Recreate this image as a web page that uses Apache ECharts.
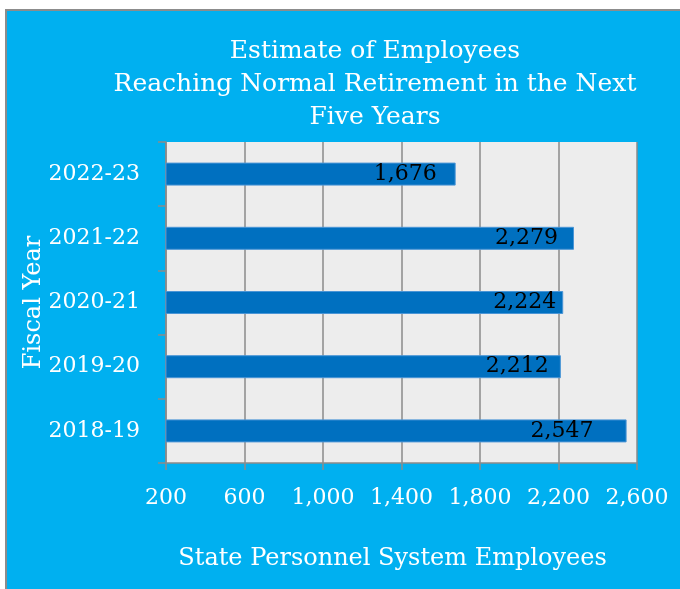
<!DOCTYPE html>
<html>
<head>
<meta charset="utf-8">
<script src="https://cdn.jsdelivr.net/npm/echarts@6/dist/echarts.min.js"></script>
<style>
  html, body { margin: 0; padding: 0; background: #fff; }
  #chart { width: 680px; height: 589px; }
</style>
</head>
<body>
<div id="chart"></div>
<script>
// fiscal years, bottom to top as the category axis draws them
const years = ['2018-19', '2019-20', '2020-21', '2021-22', '2022-23'];
const employees = [2547, 2212, 2224, 2279, 1676];
const xTicks = [200, 600, 1000, 1400, 1800, 2200, 2600];

// how far each value label sits in from the bar end (px), as in the original
const labelPad = [33, 12, 7, 16, 19];

const serif = 'DejaVu Serif';
const fmt = v => Number(v).toLocaleString('en-US');

const myChart = echarts.init(document.getElementById('chart'));
const option = {
  backgroundColor: '#fff',
  animation: false,
  graphic: [{
    type: 'rect',
    z: -10,
    silent: true,
    shape: { x: 6, y: 10, width: 700, height: 600 },
    style: { fill: '#00B0F0', stroke: '#8C8C8C', lineWidth: 2 }
  }],
  title: {
    text: 'Estimate of Employees\nReaching Normal Retirement in the Next\nFive Years',
    left: 370,
    top: 30,
    textAlign: 'center',
    textStyle: {
      fontFamily: serif,
      fontSize: 25,
      lineHeight: 33,
      fontWeight: 'normal',
      color: '#fff'
    }
  },
  grid: {
    left: 166,
    top: 142,
    right: 43,
    bottom: 126,
    show: true,
    backgroundColor: '#EDEDED',
    borderWidth: 0
  },
  xAxis: {
    type: 'value',
    min: 200,
    max: 2600,
    name: 'State Personnel System Employees',
    nameLocation: 'middle',
    nameGap: 84,
    nameMoveOverlap: false,
    nameTextStyle: {
      fontFamily: serif,
      fontSize: 24,
      color: '#fff',
      padding: [0, 18, 0, 0]
    },
    axisLine: { show: true, lineStyle: { color: '#8A8A8A', width: 1.5 } },
    axisTick: { show: true, length: 7, customValues: xTicks, lineStyle: { color: '#8A8A8A', width: 1.5 } },
    axisLabel: {
      customValues: xTicks,
      margin: 24,
      fontFamily: serif,
      fontSize: 22,
      color: '#fff',
      formatter: fmt
    },
    splitLine: { show: true, lineStyle: { color: '#8A8A8A', width: 1.5 } }
  },
  yAxis: {
    type: 'category',
    data: years,
    name: 'Fiscal Year',
    nameLocation: 'middle',
    nameRotate: 90,
    nameGap: 120,
    nameMoveOverlap: false,
    nameTextStyle: {
      fontFamily: serif,
      fontSize: 24,
      color: '#fff'
    },
    axisLine: { show: true, lineStyle: { color: '#8A8A8A', width: 1.5 } },
    axisTick: { show: true, length: 8, lineStyle: { color: '#8A8A8A', width: 1.5 } },
    axisLabel: {
      margin: 26,
      fontFamily: serif,
      fontSize: 22,
      color: '#fff'
    },
    splitLine: { show: false }
  },
  series: [{
    type: 'bar',
    data: employees.map((v, i) => ({ value: v, label: { distance: labelPad[i] } })),
    barWidth: 23,
    itemStyle: { color: '#0070C0', borderColor: '#4A95D6', borderWidth: 1 },
    label: {
      show: true,
      position: 'insideRight',
      fontFamily: serif,
      fontSize: 22,
      color: '#000',
      formatter: p => fmt(p.value)
    }
  }]
};
myChart.setOption(option);
</script>
</body>
</html>
